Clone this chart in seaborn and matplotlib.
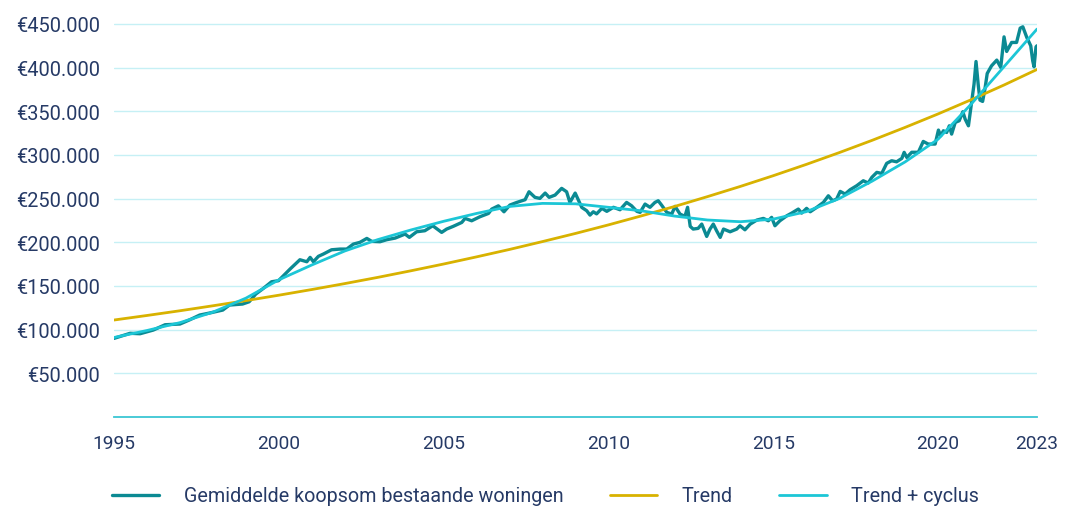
import matplotlib
matplotlib.use('Agg')
import matplotlib.pyplot as plt
import seaborn as sns
import pandas as pd

# ─── Data ─────────────────────────────────────────────────────────────────────

obs_years = [
    1995.00, 1995.25, 1995.49, 1995.79, 1996.19, 1996.55, 1997.00, 1997.30, 1997.60, 1997.90,
    1998.30, 1998.50, 1998.90, 1999.10, 1999.30, 1999.53, 1999.78, 1999.99, 2000.34, 2000.64,
    2000.85, 2000.95, 2001.05, 2001.20, 2001.35, 2001.60, 2001.86, 2002.06, 2002.26, 2002.46,
    2002.67, 2002.82, 2003.07, 2003.27, 2003.53, 2003.83, 2003.96, 2004.18, 2004.43, 2004.67,
    2004.94, 2005.09, 2005.29, 2005.55, 2005.65, 2005.85, 2006.10, 2006.36, 2006.46, 2006.66,
    2006.83, 2007.01, 2007.22, 2007.47, 2007.59, 2007.77, 2007.92, 2008.08, 2008.20, 2008.38,
    2008.58, 2008.73, 2008.83, 2008.99, 2009.19, 2009.34, 2009.44, 2009.54, 2009.64, 2009.80,
    2009.95, 2010.15, 2010.35, 2010.55, 2010.70, 2010.86, 2010.96, 2011.11, 2011.26, 2011.41,
    2011.51, 2011.61, 2011.77, 2011.92, 2012.02, 2012.17, 2012.32, 2012.40, 2012.48, 2012.57,
    2012.72, 2012.83, 2012.98, 2013.08, 2013.18, 2013.28, 2013.39, 2013.49, 2013.69, 2013.89,
    2013.99, 2014.14, 2014.30, 2014.50, 2014.70, 2014.85, 2014.95, 2015.05, 2015.20, 2015.41,
    2015.56, 2015.76, 2015.86, 2016.01, 2016.12, 2016.32, 2016.52, 2016.67, 2016.80, 2016.92,
    2017.03, 2017.18, 2017.33, 2017.53, 2017.73, 2017.88, 2017.99, 2018.14, 2018.29, 2018.44,
    2018.59, 2018.74, 2018.90, 2018.97, 2019.05, 2019.20, 2019.40, 2019.55, 2019.70, 2019.91,
    2020.01, 2020.08, 2020.16, 2020.26, 2020.34, 2020.41, 2020.52, 2020.64, 2020.75, 2020.82,
    2020.92, 2021.02, 2021.09, 2021.15, 2021.22, 2021.27, 2021.35, 2021.42, 2021.49, 2021.62,
    2021.78, 2021.90, 2022.00, 2022.08, 2022.23, 2022.38, 2022.49, 2022.57, 2022.69, 2022.81,
    2022.87, 2022.91, 2022.97, 2023.00,
]
obs_values = [
    90000, 93000, 95800, 95300, 99500, 105600, 106400, 111300, 116700, 119000,
    122400, 128100, 129300, 131900, 140700, 147200, 154800, 156000, 169300, 180000,
    177700, 182700, 177700, 183900, 186500, 191400, 192200, 192200, 197900, 199900,
    204400, 201000, 200600, 202900, 204800, 209400, 205600, 212000, 213200, 218900,
    211300, 215100, 218200, 222700, 227300, 224600, 229200, 233000, 238000, 241700,
    234900, 242600, 245600, 248700, 257800, 251400, 250200, 256300, 251400, 254000,
    261700, 257800, 245600, 256300, 239900, 236100, 231100, 234900, 232500, 238800,
    235400, 240000, 237200, 245600, 241800, 235400, 234200, 243700, 240000, 245600,
    247500, 242600, 234200, 232300, 241100, 232300, 229600, 240000, 218200, 215100,
    215900, 220800, 206700, 215100, 220800, 213200, 205600, 215100, 212000, 215100,
    218900, 214300, 220800, 225400, 227300, 224600, 228500, 218900, 224600, 230300,
    233400, 238000, 233400, 238800, 234900, 240000, 245600, 253200, 247500, 249400,
    258200, 255200, 260100, 264700, 270400, 267800, 274300, 280000, 278800, 290300,
    293300, 292100, 296000, 302900, 297100, 303000, 303000, 315400, 312400, 312400,
    328400, 321900, 327600, 325700, 333300, 323800, 337200, 339100, 349400, 341000,
    333300, 361900, 381000, 406900, 379100, 362700, 361200, 375300, 393200, 401900,
    408500, 400100, 435100, 418400, 428700, 428700, 445100, 446600, 434500, 424900,
    407700, 400800, 423700, 424900,
]

curve_years = list(range(1995, 2024))
trend_values = [
    111000, 116200, 121600, 127300, 133200, 139400, 145900, 152700, 159800, 167300,
    175100, 183300, 191800, 200800, 210100, 219900, 230200, 240900, 252200, 263900,
    276200, 289100, 302600, 316700, 331500, 346900, 363100, 380000, 397800,
]
cycle_values = [
    91000, 99000, 108000, 120000, 136000, 157000, 174000, 190000, 203000, 214000,
    224000, 233000, 241000, 244500, 244000, 240000, 236000, 230000, 225500, 223500,
    226500, 235000, 250000, 270000, 292000, 318000, 358000, 401000, 444000,
]

series_labels = ['Gemiddelde koopsom bestaande woningen', 'Trend', 'Trend + cyclus']
series_colors = ['#0b8a93', '#d8b200', '#1cc6d6']

y_ticks = [0, 50000, 100000, 150000, 200000, 250000, 300000, 350000, 400000, 450000]
y_ticklabels = ['', '€50.000', '€100.000', '€150.000', '€200.000', '€250.000',
                '€300.000', '€350.000', '€400.000', '€450.000']
x_ticks = [1995, 2000, 2005, 2010, 2015, 2020, 2023]

# ─── Plot ─────────────────────────────────────────────────────────────────────

sns.set_style('white')
plt.rcParams['font.family'] = ['Roboto', 'DejaVu Sans']
text_col = '#263a66'

obs = pd.DataFrame({'year': obs_years, 'value': obs_values})
curves = pd.DataFrame({'year': curve_years, 'trend': trend_values, 'cycle': cycle_values})

fig = plt.figure(figsize=(10.71, 5.10), dpi=100)
ax = fig.add_axes([114 / 1071, 1 - 418 / 510, (1037 - 114) / 1071, 415 / 510])

sns.lineplot(data=obs, x='year', y='value', ax=ax, color=series_colors[0],
             linewidth=2.4, label=series_labels[0], errorbar=None)
sns.lineplot(data=curves, x='year', y='trend', ax=ax, color=series_colors[1],
             linewidth=2.0, label=series_labels[1], errorbar=None)
sns.lineplot(data=curves, x='year', y='cycle', ax=ax, color=series_colors[2],
             linewidth=2.0, label=series_labels[2], errorbar=None)

ax.set_xlim(1995, 2023)
ax.set_ylim(0, 475000)
ax.set_yticks(y_ticks)
ax.set_yticklabels(y_ticklabels)
ax.set_xticks(x_ticks)
ax.set_xticklabels([str(t) for t in x_ticks])
ax.tick_params(length=0, labelcolor=text_col)
ax.tick_params(axis='y', pad=10, labelsize=14.4)
ax.tick_params(axis='x', pad=12, labelsize=13.8)
ax.set_xlabel('')
ax.set_ylabel('')

ax.yaxis.grid(True, color='#c6f0f5', linewidth=1.0)
ax.xaxis.grid(False)
ax.set_axisbelow(True)
for side in ['top', 'left', 'right']:
    ax.spines[side].set_visible(False)
ax.spines['bottom'].set_color('#3cc6d3')
ax.spines['bottom'].set_linewidth(1.3)

handles, labels = ax.get_legend_handles_labels()
ax.get_legend().remove()
fig.legend(handles, labels, loc='center left', bbox_to_anchor=(94 / 1071, 1 - 497 / 510),
           ncol=3, frameon=False, fontsize=14.2, labelcolor=text_col,
           handlelength=2.4, handletextpad=1.25, columnspacing=2.35)

plt.savefig('out.png', dpi=100)
plt.close(fig)
